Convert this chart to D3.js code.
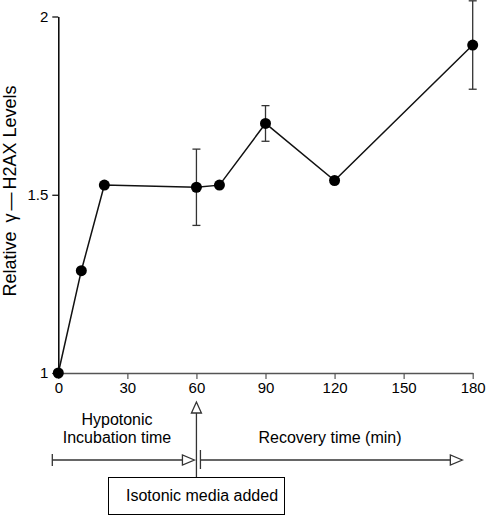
<!DOCTYPE html>
<html>
<head>
<meta charset="utf-8">
<script src="https://cdn.jsdelivr.net/npm/d3@7"></script>
<style>
  html, body { margin: 0; padding: 0; background: #fff; }
  svg { display: block; font-family: "Liberation Sans", Arial, sans-serif; }
</style>
</head>
<body>
<svg id="chart" width="486" height="516"></svg>
<script>
// ---- data ----
const times = [0, 10, 20, 60, 70, 90, 120, 180];
const levels = [1.0, 1.287, 1.527, 1.521, 1.527, 1.70, 1.54, 1.92];
const errors = [0, 0, 0, 0.107, 0, 0.05, 0, 0.124];
const xTicks = [0, 30, 60, 90, 120, 150, 180];
const yTicks = [1, 1.5, 2];
const yTickLabels = ["1", "1.5", "2"];
const yLabelParts = ["Relative ", "\u03B3", "\u2014", "H2AX Levels"];
const annotLeft = ["Hypotonic", "Incubation time"];
const annotRight = "Recovery time (min)";
const boxLabel = "Isotonic media added";

const svg = d3.select("#chart");
const x = d3.scaleLinear().domain([0, 180]).range([58.3, 472.7]);
const y = d3.scaleLinear().domain([1, 2]).range([373, 16.5]);

// axes
const xAxis = svg.append("g").attr("transform", `translate(0,${y(1)})`)
  .call(d3.axisBottom(x).tickValues(xTicks).tickSize(6).tickSizeOuter(0).tickPadding(3));
xAxis.select(".domain").attr("stroke", "#555").attr("stroke-width", 1.5);
xAxis.selectAll(".tick line").attr("stroke", "#555").attr("stroke-width", 1.2);
xAxis.selectAll(".tick text").attr("font-size", 15).attr("fill", "#000")
  .attr("font-family", "Liberation Sans, Arial, sans-serif");

const yAxis = svg.append("g").attr("transform", `translate(${x(0)},0)`)
  .call(d3.axisLeft(y).tickValues(yTicks).tickFormat((d, i) => yTickLabels[i]).tickSize(6).tickSizeOuter(0).tickPadding(4));
yAxis.select(".domain").attr("stroke", "#000").attr("stroke-width", 1.5);
yAxis.selectAll(".tick line").attr("stroke", "#000").attr("stroke-width", 1.2);
yAxis.selectAll(".tick text").attr("font-size", 15).attr("fill", "#000")
  .attr("font-family", "Liberation Sans, Arial, sans-serif");

const yl = svg.append("text")
  .attr("transform", `translate(16,191) rotate(-90)`)
  .attr("text-anchor", "middle")
  .attr("font-size", 18);
yl.append("tspan").text(yLabelParts[0]);
yl.append("tspan").attr("dx", 4).text(yLabelParts[1]);
yl.append("tspan").attr("dx", 3).text(yLabelParts[2]);
yl.append("tspan").attr("dx", 3).text(yLabelParts[3]);

// data
const pts = times.map((t, i) => ({ t, v: levels[i], e: errors[i] }));
const line = d3.line().x(d => x(d.t)).y(d => y(d.v));
svg.append("path").datum(pts).attr("d", line)
  .attr("fill", "none").attr("stroke", "#111").attr("stroke-width", 1.5);

const eb = svg.append("g").attr("stroke", "#333").attr("stroke-width", 1.3);
pts.filter(d => d.e > 0).forEach(d => {
  eb.append("line").attr("x1", x(d.t)).attr("x2", x(d.t)).attr("y1", y(d.v + d.e)).attr("y2", y(d.v - d.e));
  [d.v + d.e, d.v - d.e].forEach(v => {
    eb.append("line").attr("x1", x(d.t) - 4).attr("x2", x(d.t) + 4).attr("y1", y(v)).attr("y2", y(v));
  });
});

svg.append("g").selectAll("circle").data(pts).join("circle")
  .attr("cx", d => x(d.t)).attr("cy", d => y(d.v)).attr("r", 5.5).attr("fill", "#000");

// annotations
const ann = svg.append("g").attr("stroke", "#333").attr("stroke-width", 1.3).attr("fill", "none");
const arrowY = 460;
function headRight(tipX, yy) {
  ann.append("path").attr("d", `M${tipX},${yy} L${tipX - 12},${yy - 5} L${tipX - 12},${yy + 5} Z`).attr("fill", "#fff");
}
// left arrow
const lx0 = x(0) - 6, lx1 = x(60) - 2;
ann.append("line").attr("x1", lx0).attr("x2", lx1 - 12).attr("y1", arrowY).attr("y2", arrowY);
ann.append("line").attr("x1", lx0).attr("x2", lx0).attr("y1", arrowY - 6).attr("y2", arrowY + 6);
headRight(lx1, arrowY);
// right arrow
const rx0 = x(60) + 4, rx1 = x(175.5);
ann.append("line").attr("x1", rx0).attr("x2", rx1 - 12).attr("y1", arrowY).attr("y2", arrowY);
ann.append("line").attr("x1", rx0).attr("x2", rx0).attr("y1", arrowY - 10).attr("y2", arrowY + 9);
headRight(rx1, arrowY);
// vertical arrow
const vx = x(60);
ann.append("line").attr("x1", vx).attr("x2", vx).attr("y1", 413).attr("y2", 477);
ann.append("path").attr("d", `M${vx},402 L${vx - 5},413 L${vx + 5},413 Z`).attr("fill", "#fff");
// box
ann.append("rect").attr("x", 108.5).attr("y", 477.5).attr("width", 176).attr("height", 37)
  .attr("fill", "#fff").attr("stroke", "#000").attr("stroke-width", 1);

const tg = svg.append("g").attr("font-size", 16).attr("fill", "#000").attr("text-anchor", "middle");
tg.append("text").attr("x", 117).attr("y", 425).text(annotLeft[0]);
tg.append("text").attr("x", 117).attr("y", 443).text(annotLeft[1]);
tg.append("text").attr("x", 330).attr("y", 443).text(annotRight);
tg.append("text").attr("x", 202).attr("y", 501).text(boxLabel);
</script>
</body>
</html>
